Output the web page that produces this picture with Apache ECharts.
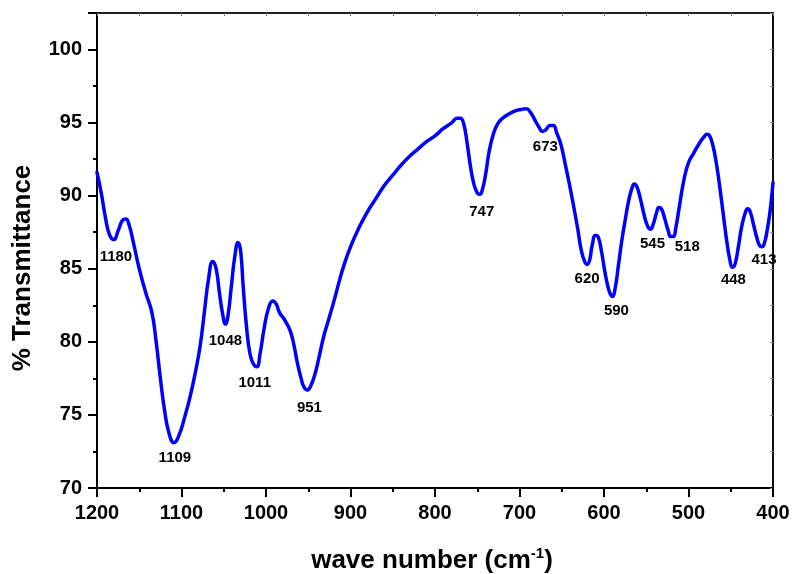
<!DOCTYPE html>
<html>
<head>
<meta charset="utf-8">
<script src="https://cdn.jsdelivr.net/npm/echarts@6/dist/echarts.min.js"></script>
<style>
html,body{margin:0;padding:0;background:#fff;}
#chart{width:792px;height:574px;}
</style>
</head>
<body>
<div id="chart"></div>
<script>
// Wavenumber (cm-1) and % transmittance
const wavenumber = [
  1200,1195,1190,1185,1180,1175,1170,1166,1162,1157,1150,1142,1135,1130,1125,1120,1115,1109,1103,1096,
  1090,1084,1078,1073,1068,1063,1059,1055,1051,1048,1045,1041,1037,1033,1030,1027,1023,1019,1015,1011,
  1007,1002,997,992,988,984,979,975,971,967,963,958,955,951,947,942,937,932,926,920,
  914,908,900,890,880,870,860,850,840,830,820,810,800,790,780,774,770,766,762,758,
  754,750,747,744,740,736,731,726,720,712,705,698,692,687,682,677,673,669,664,660,
  656,651,646,641,636,631,627,623,620,617,614,610,607,603,599,595,592,590,587,583,
  579,575,571,567,564,561,557,553,549,545,542,538,535,532,528,524,521,518,515,511,
  507,503,499,494,488,482,478,475,471,467,463,459,455,451,448,445,441,437,433,430,
  427,423,419,416,413,410,407,404,402,400
];
const transmittance = [
  91.6,90.2,88.5,87.3,87.0,87.6,88.3,88.4,88.0,86.8,85.0,83.3,82.0,80.0,77.5,75.3,73.8,73.1,73.6,74.9,
  76.2,77.8,79.7,82.0,84.3,85.5,85.0,83.3,81.8,81.2,81.8,83.8,85.8,86.8,86.2,83.8,81.0,79.2,78.5,78.3,
  79.2,81.0,82.3,82.8,82.6,82.0,81.6,81.2,80.7,79.8,78.6,77.4,76.9,76.7,77.0,77.8,79.0,80.3,81.5,82.7,
  84.0,85.2,86.5,87.8,88.9,89.8,90.7,91.4,92.1,92.7,93.2,93.7,94.1,94.6,95.0,95.3,95.3,94.9,93.6,92.0,
  90.8,90.2,90.1,90.4,91.5,93.0,94.2,94.9,95.3,95.6,95.8,95.9,95.95,95.7,95.2,94.7,94.4,94.5,94.8,94.8,
  94.3,93.5,92.2,90.8,89.3,87.7,86.3,85.5,85.3,85.6,86.6,87.3,87.2,86.2,84.8,83.7,83.2,83.1,83.6,85.2,
  86.9,88.3,89.6,90.5,90.8,90.6,89.8,88.8,88.0,87.7,88.0,88.8,89.2,89.1,88.4,87.6,87.2,87.2,87.8,89.2,
  90.6,91.7,92.4,92.9,93.5,94.0,94.2,94.1,93.4,92.2,90.6,88.8,87.0,85.6,85.1,85.3,86.5,87.9,88.8,89.1,
  88.9,88.0,87.1,86.6,86.5,86.8,87.6,88.7,89.7,90.9
];
// Annotated band positions
const peakWavenumbers = [1180,1109,1048,1011,951,747,673,620,590,545,518,448,413];
const peakTransmittance = [87.0,73.1,81.2,78.3,76.7,90.1,94.4,85.3,83.1,87.7,87.2,85.1,86.5];
const xTickValues = [1200,1100,1000,900,800,700,600,500,400];
const yTickValues = [70,75,80,85,90,95,100];
const xTitle = 'wave number (cm{sup|-1})';
const yTitle = '% Transmittance';

const labelOffsets = {
  1180:[2,17],1109:[1,15],1048:[0,17],1011:[-2,16],951:[2,18],747:[2,18],673:[3,15],
  620:[0,14],590:[4,14],545:[2,15],518:[14,10],448:[1,13],413:[2,13]
};

const chart = echarts.init(document.getElementById('chart'), null, {renderer:'canvas'});
const FONT = 'Liberation Sans, Arial, sans-serif';
const grid = {left:97, top:13, width:676, height:475, containLabel:false, outerBoundsMode:'none'};
const xBase = {type:'value', min:400, max:1200, inverse:true};
const yBase = {type:'value', min:70, max:102.5};

const option = {
  animation:false,
  backgroundColor:'#ffffff',
  grid:[grid],
  graphic:[
    {type:'text', x:432, y:561, z:10,
      style:{text:xTitle, fill:'#000', font:'bold 26px ' + FONT, align:'center', verticalAlign:'middle',
        rich:{sup:{fontSize:15, fontWeight:'bold', fontFamily:FONT, fill:'#000', verticalAlign:'top', padding:[0,0,14,0]}}}},
    {type:'text', x:23, y:268, rotation:Math.PI/2, z:10,
      style:{text:yTitle, fill:'#000', font:'bold 26px ' + FONT, align:'center', verticalAlign:'middle'}}
  ],
  xAxis:[
    Object.assign({}, xBase, {
      position:'bottom', interval:100,
      axisLine:{show:true, onZero:false, lineStyle:{color:'#000', width:2}},
      axisTick:{show:true, inside:false, length:9, lineStyle:{color:'#000', width:2}},
      minorTick:{show:true, splitNumber:2, length:4, lineStyle:{color:'#000', width:2}},
      splitLine:{show:false},
      axisLabel:{show:true, margin:15, color:'#000', fontSize:20, fontWeight:'bold', fontFamily:FONT,
        formatter: v => xTickValues.indexOf(v) >= 0 ? String(v) : ''}
    }),
    Object.assign({}, xBase, {
      position:'top', interval:50,
      axisLine:{show:true, onZero:false, lineStyle:{color:'#222', width:2}},
      axisTick:{show:true, inside:true, length:3, lineStyle:{color:'#777', width:1}},
      axisLabel:{show:false}, splitLine:{show:false}
    })
  ],
  yAxis:[
    Object.assign({}, yBase, {
      position:'left', interval:5,
      axisLine:{show:true, onZero:false, lineStyle:{color:'#000', width:2}},
      axisTick:{show:true, inside:false, length:9, lineStyle:{color:'#000', width:2}},
      splitLine:{show:false},
      axisLabel:{show:true, margin:15, color:'#000', fontSize:20, fontWeight:'bold', fontFamily:FONT,
        formatter: v => yTickValues.indexOf(v) >= 0 ? String(v) : ''}
    }),
    Object.assign({}, yBase, {
      position:'left', interval:2.5,
      axisLine:{show:false, onZero:false},
      axisTick:{show:true, inside:false, length:4, lineStyle:{color:'#000', width:2}},
      axisLabel:{show:false}, splitLine:{show:false}
    }),
    Object.assign({}, yBase, {
      position:'right', interval:2.5,
      axisLine:{show:true, onZero:false, lineStyle:{color:'#111', width:2}},
      axisTick:{show:true, inside:true, length:3, lineStyle:{color:'#888', width:1}},
      axisLabel:{show:false}, splitLine:{show:false}
    })
  ],
  series:[
    {
      type:'line', xAxisIndex:0, yAxisIndex:0,
      data: wavenumber.map((w,i)=>[w, transmittance[i]]),
      showSymbol:false, symbol:'none',
      smooth:0.5,
      lineStyle:{color:'#0000ff', width:3.5, join:'round', cap:'round'},
      z:3
    },
    {
      type:'scatter', xAxisIndex:0, yAxisIndex:0,
      symbolSize:0, silent:true,
      itemStyle:{opacity:1},
      data: peakWavenumbers.map((w,i)=>({
        value:[w, peakTransmittance[i]], name:String(w),
        label:{offset: labelOffsets[w]}
      })),
      label:{show:true, position:'inside', formatter:p=>p.name, color:'#000', opacity:1,
        textBorderWidth:0,
        fontSize:15, fontWeight:'bold', fontFamily:FONT, align:'center', verticalAlign:'middle'},
      z:4
    }
  ]
};
chart.setOption(option);
</script>
</body>
</html>
